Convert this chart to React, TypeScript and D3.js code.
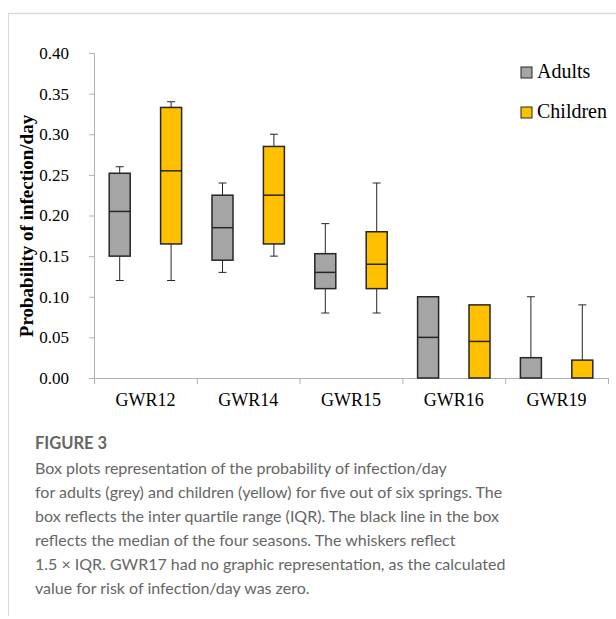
import React, { useEffect, useRef } from 'react'
import * as d3 from 'd3'

// springs and box stats [min, q1, median, q3, max]
const categories = ['GWR12', 'GWR14', 'GWR15', 'GWR16', 'GWR19']
const groups = ['Adults', 'Children']
const adultStats = [
  [0.12, 0.15, 0.205, 0.252, 0.26],
  [0.13, 0.145, 0.185, 0.225, 0.24],
  [0.08, 0.11, 0.13, 0.153, 0.19],
  [0, 0, 0.05, 0.1, 0.1],
  [0, 0, 0, 0.025, 0.1],
]
const childStats = [
  [0.12, 0.165, 0.255, 0.333, 0.34],
  [0.15, 0.165, 0.225, 0.285, 0.3],
  [0.08, 0.11, 0.14, 0.18, 0.24],
  [0, 0, 0.045, 0.09, 0.09],
  [0, 0, 0, 0.022, 0.09],
]
const yTicks = [0, 0.05, 0.1, 0.15, 0.2, 0.25, 0.3, 0.35, 0.4]
const colors = ['#a5a5a5', '#ffc000']
const captionTitle = 'FIGURE 3'
const captionLines = [
  'Box plots representation of the probability of infection/day',
  'for adults (grey) and children (yellow) for five out of six springs. The',
  'box reflects the inter quartile range (IQR). The black line in the box',
  'reflects the median of the four seasons. The whiskers reflect',
  '1.5 \u00d7 IQR. GWR17 had no graphic representation, as the calculated',
  'value for risk of infection/day was zero.',
]

const W = 616
const H = 619
const serif = '"Liberation Serif", "Times New Roman", serif'
const sans = 'Lato, "Open Sans", sans-serif'

export default function App() {
  const ref = useRef<SVGSVGElement>(null)

  useEffect(() => {
    const svg = d3.select(ref.current)
    svg.selectAll('*').remove()

    const x = d3.scaleBand().domain(categories).range([94, 608]).padding(0)
    const inner = d3.scalePoint().domain(groups).range([0, x.bandwidth()]).padding(0.5)
    const y = d3.scaleLinear().domain([0, 0.4]).range([378, 53])
    const boxW = 21

    // frame lines
    svg.append('line').attr('x1', 8).attr('x2', W).attr('y1', 13.5).attr('y2', 13.5)
      .attr('stroke', '#d9d9d9').attr('stroke-width', 1.5)
    svg.append('line').attr('x1', 8.5).attr('x2', 8.5).attr('y1', 13).attr('y2', 616)
      .attr('stroke', '#d9d9d9').attr('stroke-width', 1)

    // y axis
    const yAxis = svg.append('g').attr('transform', 'translate(94,0)')
      .call(d3.axisLeft(y).tickValues(yTicks).tickSize(5).tickPadding(20).tickFormat(d3.format('.2f')))
    yAxis.select('.domain').attr('stroke', '#b0b0b0')
    yAxis.selectAll('.tick line').attr('stroke', '#b0b0b0')
    yAxis.selectAll('.tick text').attr('fill', '#000').attr('font-family', serif).attr('font-size', 17)

    // x axis
    svg.append('line').attr('x1', 94).attr('x2', 608).attr('y1', 378.5).attr('y2', 378.5)
      .attr('stroke', '#b0b0b0')
    const bounds = categories.map(c => x(c)!).concat([x.range()[1]])
    svg.selectAll('line.xtick').data(bounds).join('line').attr('class', 'xtick')
      .attr('x1', d => d + 0.5).attr('x2', d => d + 0.5).attr('y1', 378).attr('y2', 384)
      .attr('stroke', '#b0b0b0')
    svg.selectAll('text.xlab').data(categories).join('text').attr('class', 'xlab')
      .attr('x', d => x(d)! + x.bandwidth() / 2).attr('y', 406)
      .attr('text-anchor', 'middle').attr('font-family', serif).attr('font-size', 18)
      .text(d => d)

    // y title
    svg.append('text').attr('transform', 'translate(33,226) rotate(-90)')
      .attr('text-anchor', 'middle').attr('font-family', serif).attr('font-size', 19)
      .attr('font-weight', 'bold').text('Probability of infection/day')

    // boxes
    const rows = categories.flatMap((c, i) => [
      { c, g: groups[0], s: adultStats[i], col: colors[0] },
      { c, g: groups[1], s: childStats[i], col: colors[1] },
    ])
    const box = svg.selectAll('g.box').data(rows).join('g').attr('class', 'box')
      .attr('transform', d => `translate(${x(d.c)! + inner(d.g)!},0)`)
    const stroke = '#262626'
    box.each(function (d) {
      const g = d3.select(this)
      const [mn, q1, md, q3, mx] = d.s
      if (mx > q3) {
        g.append('line').attr('y1', y(q3)).attr('y2', y(mx)).attr('stroke', stroke)
        g.append('line').attr('x1', -4).attr('x2', 4).attr('y1', y(mx)).attr('y2', y(mx)).attr('stroke', stroke)
      }
      if (mn < q1) {
        g.append('line').attr('y1', y(q1)).attr('y2', y(mn)).attr('stroke', stroke)
        g.append('line').attr('x1', -4).attr('x2', 4).attr('y1', y(mn)).attr('y2', y(mn)).attr('stroke', stroke)
      }
      g.append('rect').attr('x', -boxW / 2).attr('width', boxW)
        .attr('y', y(q3)).attr('height', y(q1) - y(q3))
        .attr('fill', d.col).attr('stroke', stroke).attr('stroke-width', 1.5)
      if (md > q1) {
        g.append('line').attr('x1', -boxW / 2).attr('x2', boxW / 2).attr('y1', y(md)).attr('y2', y(md))
          .attr('stroke', stroke).attr('stroke-width', 1.5)
      }
    })

    // legend
    const leg = svg.selectAll('g.leg').data(groups).join('g').attr('class', 'leg')
      .attr('transform', (d, i) => `translate(521,${67 + i * 40})`)
    leg.append('rect').attr('width', 11).attr('height', 11)
      .attr('fill', (d, i) => colors[i]).attr('stroke', stroke).attr('stroke-width', 1)
    leg.append('text').attr('x', 16).attr('y', 11).attr('font-family', serif).attr('font-size', 20)
      .text(d => d)

    // caption
    svg.append('text').attr('x', 35).attr('y', 449).attr('font-family', sans)
      .attr('font-size', 16.5).attr('font-weight', 'bold').attr('fill', '#666').text(captionTitle)
    svg.selectAll('text.cap').data(captionLines).join('text').attr('class', 'cap')
      .attr('x', 35).attr('y', (d, i) => 474 + i * 24)
      .attr('font-family', sans).attr('font-size', 16)
      .attr('fill', '#666').text(d => d)
  }, [])

  return (
    <svg ref={ref} width={W} height={H} style={{ position: 'absolute', left: 0, top: 0, background: '#fff' }} />
  )
}
